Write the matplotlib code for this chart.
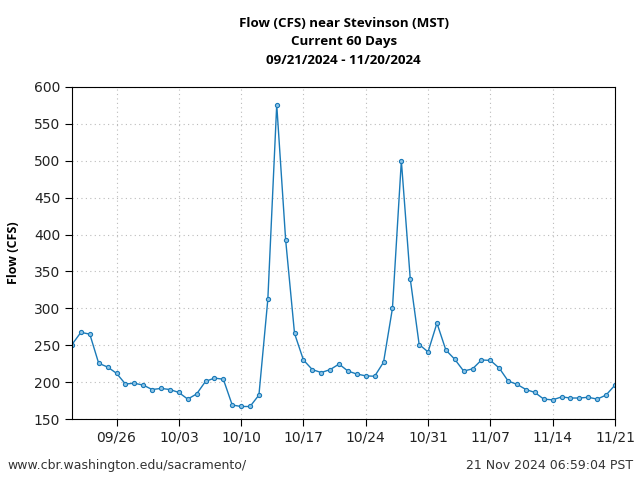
import matplotlib
matplotlib.use('Agg')
import matplotlib.pyplot as plt
import matplotlib.dates as mdates
import numpy as np
import datetime

start = datetime.date(2024, 9, 21)
flow = [251, 267.5, 265, 225.5, 220.5, 212, 197.5, 198.5, 196, 190,
        191.5, 190, 186, 177, 184, 201, 205.5, 204, 169, 167,
        167, 182.5, 312, 576, 393, 266, 230, 217, 213, 217,
        224.5, 215, 211, 208.5, 208, 227, 300, 500, 340, 251,
        241, 280, 243.5, 231, 215, 218, 230, 229.5, 219, 201.5,
        197, 190, 186, 177, 176, 180, 178.5, 178.5, 179.5, 177,
        182.5, 196]
days = [start + datetime.timedelta(days=i) for i in range(len(flow))]

title = 'Flow (CFS) near Stevinson (MST)\nCurrent 60 Days\n09/21/2024 - 11/20/2024'
ylab = 'Flow (CFS)'
yticks = [150, 200, 250, 300, 350, 400, 450, 500, 550, 600]
xticks = [datetime.date(2024, 9, 26) + datetime.timedelta(days=7 * i) for i in range(9)]

fig = plt.figure(figsize=(6.4, 4.8), dpi=100)
ax = fig.add_axes([0.1125, 0.127, 0.8484, 0.6918])

ax.plot(days, flow, color='#1a7ab8', linewidth=1.0, marker='o', markersize=3,
        markerfacecolor='#8cc3e6', markeredgecolor='#1a7ab8', markeredgewidth=0.8)

ax.set_xlim(datetime.date(2024, 9, 21), datetime.date(2024, 11, 21))
ax.set_ylim(150, 600)
ax.set_yticks(yticks)
ax.set_xticks(xticks)
ax.xaxis.set_major_formatter(mdates.DateFormatter('%m/%d'))
ax.grid(True, linestyle=(0, (1, 3)), color='#bbbbbb', linewidth=0.8)
ax.tick_params(direction='out', length=5, labelsize=10, labelcolor='#222222')
ax.set_ylabel(ylab, fontweight='bold', fontsize=9, labelpad=10,
              family=['Open Sans', 'DejaVu Sans'])

fig.text(0.537, 0.965, title, ha='center', va='top', fontsize=9.6, fontweight='bold',
         family=['Open Sans', 'DejaVu Sans'], linespacing=1.55)
fig.text(0.012, 0.03, 'www.cbr.washington.edu/sacramento/', ha='left', va='center',
         fontsize=9, color='#333333')
fig.text(0.99, 0.03, '21 Nov 2024 06:59:04 PST', ha='right', va='center',
         fontsize=9, color='#333333')

fig.savefig('out.png', dpi=100)
